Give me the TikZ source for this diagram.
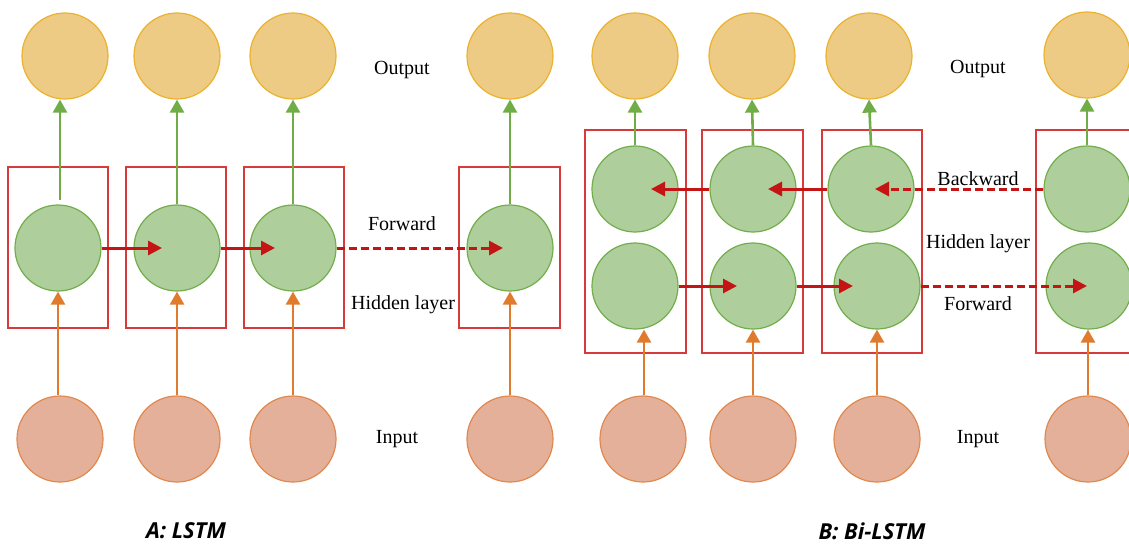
\documentclass[tikz,border=0pt]{standalone}
\usepackage{fontspec}
\setmainfont{Liberation Serif}
\newfontfamily\capfont{Open Sans}
\usetikzlibrary{arrows.meta}
\definecolor{outfill}{HTML}{EECB84}
\definecolor{outdraw}{HTML}{EBB22E}
\definecolor{hidfill}{HTML}{AECE9C}
\definecolor{hiddraw}{HTML}{72AE4C}
\definecolor{infill}{HTML}{E5B099}
\definecolor{indraw}{HTML}{E0894F}
\definecolor{boxred}{HTML}{D83A3A}
\definecolor{arrred}{HTML}{C41414}
\definecolor{arrorange}{HTML}{E07B2E}
\definecolor{arrgreen}{HTML}{70AD47}
\tikzset{
  circ/.style={circle, inner sep=0pt, minimum size=43pt, line width=0.6pt},
  outc/.style={circ, fill=outfill, draw=outdraw},
  hidc/.style={circ, fill=hidfill, draw=hiddraw},
  inc/.style={circ, fill=infill, draw=indraw},
  cell/.style={draw=boxred, line width=0.6pt, inner sep=0pt},
  redarr/.style={draw=arrred, line width=1.5pt, -{Triangle[length=7pt,width=7pt]}},
  reddash/.style={redarr, dash pattern=on 4pt off 2pt},
  greenarr/.style={draw=arrgreen, line width=1.3pt, -{Triangle[length=6.5pt,width=7pt]}},
  orangearr/.style={draw=arrorange, line width=1.3pt, -{Triangle[length=6.5pt,width=7pt]}},
  lbl/.style={font=\fontsize{10}{12}\selectfont, inner sep=0pt},
  captxt/.style={font=\capfont\bfseries\itshape\fontsize{11}{13}\selectfont, inner sep=0pt}
}
\begin{document}
\begin{tikzpicture}[x=0.5pt, y=-0.5pt]
\useasboundingbox (0,0) rectangle (1129,543);
\clip (0,0) rectangle (1129,543);
% ---------- Panel A ----------
\node[cell, minimum width=50pt, minimum height=80.5pt] (cA1) at (58,247.5) {};
\node[cell, minimum width=50pt, minimum height=80.5pt] (cA2) at (176,247.5) {};
\node[cell, minimum width=50pt, minimum height=80.5pt] (cA3) at (294,247.5) {};
\node[cell, minimum width=50.5pt, minimum height=80.5pt] (cA4) at (509.5,247.5) {};

\node[outc] (oA1) at (65,56) {};
\node[outc] (oA2) at (177,56) {};
\node[outc] (oA3) at (293,56) {};
\node[outc] (oA4) at (510,56) {};

\node[hidc] (hA1) at (58,248) {};
\node[hidc] (hA2) at (177,248) {};
\node[hidc] (hA3) at (293,248) {};
\node[hidc] (hA4) at (510,248) {};

\node[inc] (iA1) at (60,439) {};
\node[inc] (iA2) at (177,439) {};
\node[inc] (iA3) at (293,439) {};
\node[inc] (iA4) at (510,439) {};

\draw[greenarr] ([xshift=1pt,yshift=2pt]hA1.north) -- ([xshift=1pt]hA1.north |- oA1.south);
\draw[greenarr] (hA2.north) -- (oA2.south);
\draw[greenarr] (hA3.north) -- (oA3.south);
\draw[greenarr] (hA4.north) -- (oA4.south);

\draw[orangearr] (hA1.south |- iA1.north) -- (hA1.south);
\draw[orangearr] (iA2.north) -- (hA2.south);
\draw[orangearr] (iA3.north) -- (hA3.south);
\draw[orangearr] (iA4.north) -- (hA4.south);

\draw[redarr, shorten >=7.5pt] (hA1.east) -- (hA2.center);
\draw[redarr, shorten >=9pt] (hA2.east) -- (hA3.center);
\draw[reddash, shorten >=3.5pt] (hA3.east) -- (hA4.center);

\node[lbl] (tAo) at (402,70) {Output};
\node[lbl] (tAf) at (402,224) {Forward};
\node[lbl] (tAh) at (403,305) {Hidden layer};
\node[lbl] (tAi) at (397,439) {Input};

% ---------- Panel B ----------
\node[cell, minimum width=50.5pt, minimum height=111.5pt] (cB1) at (635.5,241.5) {};
\node[cell, minimum width=50.5pt, minimum height=111.5pt] (cB2) at (752.5,241.5) {};
\node[cell, minimum width=50pt, minimum height=111.5pt] (cB3) at (872,241.5) {};
\node[cell, minimum width=52pt, minimum height=111.5pt] (cB4) at (1088,241.5) {};

\node[outc] (oB1) at (635,56) {};
\node[outc] (oB2) at (752,56) {};
\node[outc] (oB3) at (869,56) {};
\node[outc] (oB4) at (1087,55) {};

\node[hidc] (uB1) at (635,189) {};
\node[hidc] (uB2) at (753,189) {};
\node[hidc] (uB3) at (871,189) {};
\node[hidc] (uB4) at (1087,189) {};

\node[hidc] (lB1) at (635,286) {};
\node[hidc] (lB2) at (753,286) {};
\node[hidc] (lB3) at (877,286) {};
\node[hidc] (lB4) at (1089,286) {};

\node[inc] (iB1) at (643,439) {};
\node[inc] (iB2) at (753,439) {};
\node[inc] (iB3) at (877,439) {};
\node[inc] (iB4) at (1088,439) {};

\draw[greenarr] (uB1.north) -- (oB1.south);
\draw[greenarr] (uB2.north) -- (oB2.south);
\draw[greenarr] (uB3.north) -- (oB3.south);
\draw[greenarr] (uB4.north) -- (oB4.south);

\draw[orangearr] ([xshift=0.5pt]iB1.north) -- ([xshift=0.5pt]iB1.north |- lB1.south);
\draw[orangearr] (iB2.north) -- (lB2.south);
\draw[orangearr] (iB3.north) -- (lB3.south);
\draw[orangearr] (iB4.north) -- (iB4.north |- lB4.south);

\draw[redarr, shorten >=8pt] (uB2.west) -- (uB1.center);
\draw[redarr, shorten >=7.5pt] (uB3.west) -- (uB2.center);
\draw[reddash, shorten >=2pt] (uB4.west) -- (uB3.center);

\draw[redarr, shorten >=8pt] (lB1.east) -- (lB2.center);
\draw[redarr, shorten >=12pt] (lB2.east) -- (lB3.center);
\draw[reddash, shorten >=1pt] (lB3.east) -- (lB4.center);

\node[lbl] (tBo) at (978,69) {Output};
\node[lbl] (tBb) at (978,179) {Backward};
\node[lbl] (tBh) at (978,244) {Hidden layer};
\node[lbl] (tBf) at (978,304) {Forward};
\node[lbl] (tBi) at (978,439) {Input};

% ---------- captions ----------
\node[captxt] (capA) at (186,531) {A: LSTM};
\node[captxt] (capB) at (872,531) {B: Bi-LSTM};
\end{tikzpicture}
\end{document}
